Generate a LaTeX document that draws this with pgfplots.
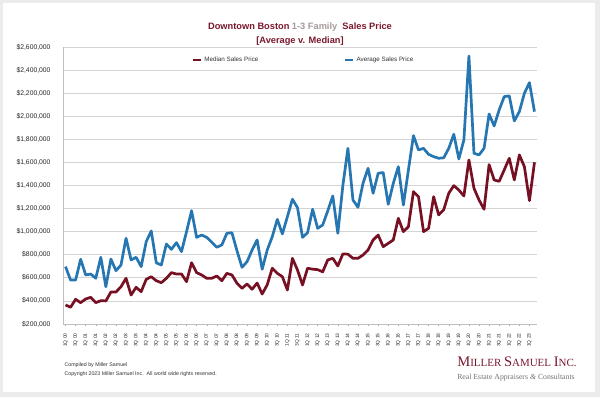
\documentclass[border=0pt]{standalone}
\usepackage{pgfplots}
\pgfplotsset{compat=1.18}
\usepackage{fontspec}
\setmainfont{Liberation Sans}
\newfontfamily\logofont{Liberation Serif}
\definecolor{medred}{RGB}{118,16,34}
\definecolor{avgblue}{RGB}{38,118,178}
\definecolor{titlered}{RGB}{122,24,44}
\definecolor{titlegray}{RGB}{165,155,155}
\definecolor{bggray}{RGB}{236,236,236}
\begin{document}
\begin{tikzpicture}[x=1bp,y=1bp]
\fill[bggray] (0,0) rectangle (600,397);
\fill[white] (3,5) rectangle (595,394);
\node[font=\bfseries\fontsize{9.3}{11}\selectfont, text=titlered] at (300,369.5) {Downtown Boston \textcolor{titlegray}{1-3 Family}\ \ Sales Price};
\node[font=\bfseries\fontsize{9.3}{11}\selectfont, text=titlered] at (300,356) {[Average v. Median]};
\node[font=\fontsize{5.3}{6}\selectfont, anchor=west, text=black!80] at (61,32) {Compiled by Miller Samuel};
\node[font=\fontsize{5.3}{6}\selectfont, anchor=west, text=black!80] at (61,23) {Copyright 2023 Miller Samuel Inc.\ \ All world wide rights reserved.};
\node[font=\logofont, text=titlered, anchor=center] at (517,35.5) {{\fontsize{14.6}{15}\selectfont M}{\fontsize{11}{15}\selectfont ILLER }{\fontsize{14.6}{15}\selectfont S}{\fontsize{11}{15}\selectfont AMUEL }{\fontsize{14.6}{15}\selectfont I}{\fontsize{11}{15}\selectfont NC.}};
\node[font=\logofont\fontsize{7.8}{9}\selectfont, text=black!55, anchor=center] at (516,19.5) {Real Estate Appraisers \textit{\&} Consultants};
\begin{axis}[
  at={(63bp,73bp)}, anchor=south west,
  width=474bp, height=277bp, scale only axis,
  xmin=-0.5, xmax=93.5, ymin=200, ymax=2600,
  ytick={200,400,...,2600},
  axis lines*=left,
  axis line style={black!25, line width=0.6bp},
  ymajorgrids, grid style={black!17, line width=0.7bp},
  xtick={0,2,...,92},
  xticklabels={1Q 00,3Q 00,1Q 01,3Q 01,1Q 02,3Q 02,1Q 03,3Q 03,1Q 04,3Q 04,1Q 05,3Q 05,1Q 06,3Q 06,1Q 07,3Q 07,1Q 08,3Q 08,1Q 09,3Q 09,1Q 10,3Q 10,1Q 11,3Q 11,1Q 12,3Q 12,1Q 13,3Q 13,1Q 14,3Q 14,1Q 15,3Q 15,1Q 16,3Q 16,1Q 17,3Q 17,1Q 18,3Q 18,1Q 19,3Q 19,1Q 20,3Q 20,1Q 21,3Q 21,1Q 22,3Q 22,1Q 23},
  x tick label style={rotate=90, anchor=east, font=\fontsize{4.9}{5}\selectfont, text=black!85},
  xticklabel shift=4bp,
  xtick style={black!35, line width=0.4bp},
  major tick length=2bp,
  tick align=outside,
  ytick style={draw=none},
  y tick label style={font=\fontsize{6.8}{8}\selectfont, text=black!85},
  yticklabel shift=7bp,
  /pgf/number format/assume math mode=true,
  yticklabel={\$\pgfmathprintnumber[fixed,precision=0,1000 sep={,}]{\tick},000},
  legend columns=2,
  legend style={at={(0.272,0.953)}, anchor=west, draw=none, fill=none, inner sep=0pt,
    font=\fontsize{6.3}{7}\selectfont, text=black!80,
    /tikz/every even column/.append style={column sep=84bp}},
  legend image code/.code={\draw[#1, line width=2.2bp] (0bp,0bp) -- (8bp,0bp);},
  every axis plot/.append style={line width=2.7bp, line join=round},
]
\addplot[medred, no marks] table[x=q, y=v] {
q v
0 365
1 345
2 414
3 385
4 417
5 431
6 385
7 402
8 400
9 477
10 477
11 523
12 596
13 451
14 518
15 480
16 587
17 610
18 575
19 558
20 596
21 645
22 633
23 633
24 567
25 731
26 645
27 625
28 596
29 596
30 616
31 575
32 639
33 625
34 553
35 509
36 547
37 501
38 555
39 460
40 540
41 683
42 639
43 610
44 495
45 769
46 668
47 538
48 683
49 675
50 671
51 652
52 755
53 769
54 703
55 807
56 805
57 769
58 769
59 798
60 841
61 928
62 971
63 870
64 899
65 928
66 1116
67 1000
68 1043
69 1347
70 1303
71 1000
72 1029
73 1303
74 1145
75 1190
76 1333
77 1399
78 1361
79 1309
80 1621
81 1376
82 1275
83 1194
84 1581
85 1448
86 1436
87 1535
88 1636
89 1448
90 1665
91 1563
92 1269
93 1601
};
\addlegendentry{Median Sales Price}
\addplot[avgblue, no marks] table[x=q, y=v] {
q v
0 697
1 581
2 581
3 761
4 625
5 633
6 596
7 778
8 523
9 763
10 662
11 711
12 943
13 755
14 778
15 697
16 913
17 1006
18 730
19 711
20 893
21 847
22 905
23 827
24 1000
25 1182
26 951
27 971
28 951
29 908
30 865
31 885
32 986
33 991
34 835
35 691
36 740
37 841
38 928
39 674
40 841
41 957
42 1107
43 980
44 1130
45 1281
46 1208
47 951
48 991
49 1194
50 1029
51 1058
52 1180
53 1309
54 986
55 1400
56 1722
57 1275
58 1211
59 1419
60 1549
61 1333
62 1506
63 1512
64 1237
65 1419
66 1563
67 1231
68 1535
69 1832
70 1708
71 1722
72 1670
73 1650
74 1636
75 1640
76 1722
77 1844
78 1630
79 1795
80 2522
81 1679
82 1665
83 1722
84 2020
85 1916
86 2055
87 2170
88 2176
89 1959
90 2040
91 2199
92 2291
93 2040
};
\addlegendentry{Average Sales Price}
\end{axis}
\pgfresetboundingbox
\useasboundingbox (0,0) rectangle (600,397);
\end{tikzpicture}
\end{document}
